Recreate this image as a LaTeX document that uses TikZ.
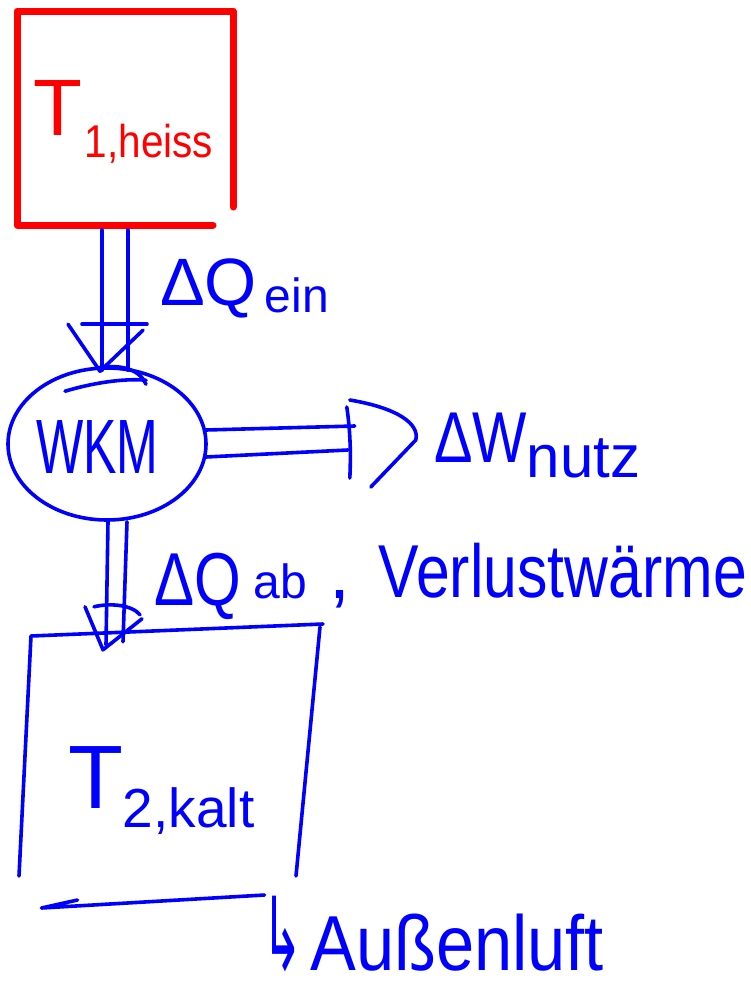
\documentclass[tikz,border=0pt]{standalone}
\usepackage{fontspec}
\setmainfont{Liberation Sans}
\newfontfamily\symfont{DejaVu Sans}
\usetikzlibrary{calc,shapes.geometric}
\definecolor{hotred}{RGB}{255,0,0}
\definecolor{penblue}{RGB}{0,0,255}
\newcommand{\fs}[1]{\fontsize{#1}{#1}\selectfont}
\begin{document}
\begin{tikzpicture}[x=1pt,y=-1pt,line cap=round,line join=round,
  redline/.style={draw=hotred,line width=7pt},
  pen/.style={draw=penblue,line width=3.6pt},
  lbl/.style={inner sep=0pt,outer sep=0pt,anchor=base west},
  boxnode/.style={inner sep=0pt,outer sep=0pt}]
\fill[white] (0,0) rectangle (751,1007);
\useasboundingbox (0,0) rectangle (751,1007);

% hot reservoir
\node[boxnode,minimum width=216pt,minimum height=214pt] (hot) at (125,118) {};
\draw[redline] ([xshift=-20pt]hot.south east) -- (hot.south west) -- (hot.north west) -- (hot.north east) -- ([yshift=18pt]hot.south east);
\node[lbl,text=hotred] (hotlbl) at (34,135) {\fs{80}T\hspace{2pt}\raisebox{-22pt}{\scalebox{0.88}[1]{\fs{46}1,heiss}}};

% machine
\node[ellipse,pen,minimum width=198pt,minimum height=152pt,inner sep=0pt] (wkm) at (107,444) {};
\node[lbl,text=penblue] (wkmlbl) at (36,473) {\scalebox{0.65}[1]{\fs{77}WKM}};
\draw[pen] ($(wkm.north)+(-42,25)$) .. controls ($(wkm.north)+(-15,17)$) and ($(wkm.north)+(15,12)$) .. ($(wkm.north)+(39,14)$);
\draw[pen] ($(wkm.north)+(-11,2)$) .. controls ($(wkm.north)+(15,-3)$) and ($(wkm.north)+(33,4)$) .. ($(wkm.north)+(39,18)$);

% Q_ein
\draw[pen] ($(hot.south)+(-23,5)$) -- ($(wkm.north)+(-5,4)$);
\draw[pen] ($(hot.south)+(3,5)$) -- ($(wkm.north)+(21,4)$);
\draw[pen] ($(wkm.north)+(-25,-42)$) -- ($(wkm.north)+(40,-42)$);
\draw[pen] ($(wkm.north)+(-39,-42)$) -- ($(wkm.north)+(-7,5)$) -- ($(wkm.north)+(36,-36)$);
\node[lbl,text=penblue] (qein) at (160,305) {\fs{67}ΔQ\hspace{8pt}\raisebox{-7pt}{\fs{48}ein}};

% W_nutz
\draw[pen] ($(wkm.east)+(-2,-14)$) -- ($(wkm.east)+(147,-18)$);
\draw[pen] ($(wkm.east)+(-2,13)$) -- ($(wkm.east)+(140,6)$);
\draw[pen] ($(wkm.east)+(139,-37)$) .. controls ($(wkm.east)+(143,-10)$) and ($(wkm.east)+(143,15)$) .. ($(wkm.east)+(142,34)$);
\draw[pen] ($(wkm.east)+(142,-44)$) .. controls ($(wkm.east)+(190,-36)$) and ($(wkm.east)+(212,-20)$) .. ($(wkm.east)+(208,-4)$) -- ($(wkm.east)+(163,43)$);
\node[lbl,text=penblue] (wnutz) at (434,462) {\scalebox{0.8}[1]{\fs{72}ΔW}\raisebox{-15pt}{\fs{60}nutz}};

% cold reservoir
\node[boxnode,minimum width=289pt,minimum height=240pt] (cold) at (175.5,756) {};
\draw[pen] ([xshift=-12pt]cold.south west) -- (cold.north west) -- ([xshift=3pt,yshift=12pt]cold.north east);
\draw[pen] ([yshift=9pt]cold.north east) -- ([xshift=-24pt]cold.south east);
\node[lbl,text=penblue] (kalt) at (68,808) {\fs{90}T\raisebox{-19pt}{\fs{55}2,kalt}};

% Q_ab
\draw[pen] ($(wkm.south)+(1,0)$) -- ($(wkm.south)+(-1,123)$);
\draw[pen] ($(wkm.south)+(20,0)$) -- ($(wkm.south)+(16,120)$);
\draw[pen] ($(wkm.south)+(-13,85)$) .. controls ($(wkm.south)+(3,81)$) and ($(wkm.south)+(25,83)$) .. ($(wkm.south)+(33,93)$);
\draw[pen] ($(wkm.south)+(-22,85)$) -- ($(wkm.south)+(-4,128)$) -- ($(wkm.south)+(35,97)$);
\node[lbl,text=penblue] (qab) at (154,605) {\scalebox{0.8}[1]{\fs{75}ΔQ}\hspace{13pt}\raisebox{7pt}{\fs{48}ab}\hspace{22pt}\raisebox{7pt}{\fs{75},}\hspace{29pt}\raisebox{8pt}{\scalebox{0.81}[1]{\fs{75}Verlustwärme}}};

% outside air
\coordinate (la) at ($(cold.south)+(89,19)$);
\coordinate (lb) at ($(cold.south)+(-134,32)$);
\coordinate (lc) at ($(cold.south)+(-98,24)$);
\draw[pen] (la) -- (lb) -- (lc);
\node[lbl,text=penblue] (aussen) at (262,970) {\scalebox{0.8}[1.7]{\symfont\fs{60}↳}\hspace{8pt}\scalebox{0.88}[1]{\fs{78}Außenluft}};
\end{tikzpicture}
\end{document}
